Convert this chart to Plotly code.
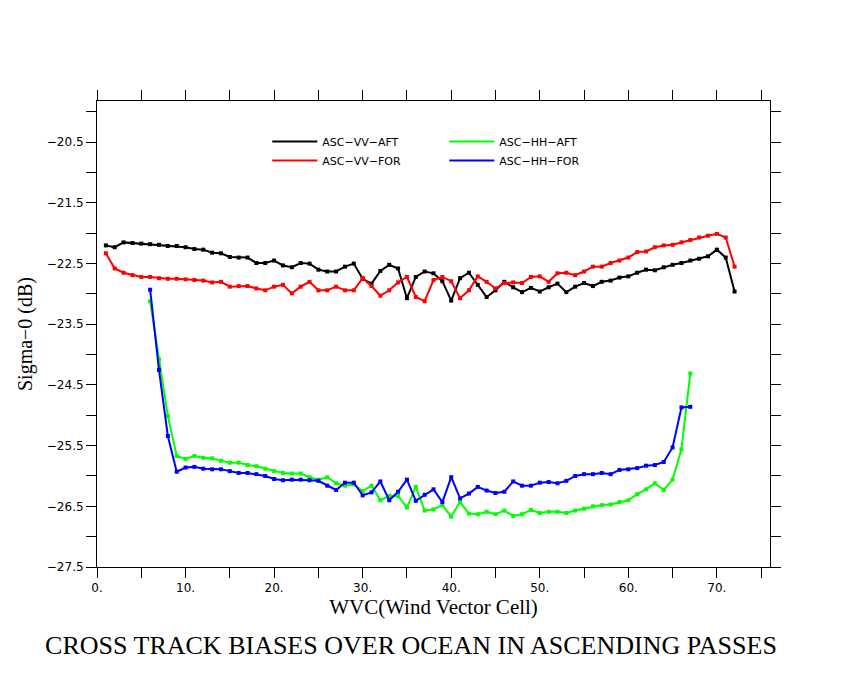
import plotly.graph_objects as go

# wind vector cells
wvc_vv = list(range(1, 73))
wvc_hh = list(range(6, 68))

vv_aft = [-22.20, -22.23, -22.15, -22.16, -22.17, -22.18, -22.19, -22.21, -22.21, -22.23,
          -22.26, -22.27, -22.32, -22.33, -22.39, -22.40, -22.40, -22.49, -22.49, -22.45,
          -22.53, -22.56, -22.49, -22.50, -22.60, -22.63, -22.63, -22.55, -22.50, -22.75,
          -22.83, -22.62, -22.52, -22.58, -23.07, -22.72, -22.63, -22.66, -22.79, -23.11,
          -22.74, -22.65, -22.85, -23.05, -22.94, -22.80, -22.89, -22.97, -22.90, -22.96,
          -22.89, -22.83, -22.97, -22.88, -22.82, -22.87, -22.80, -22.78, -22.73, -22.71,
          -22.65, -22.60, -22.61, -22.56, -22.52, -22.49, -22.45, -22.42, -22.38, -22.27,
          -22.40, -22.96]

vv_for = [-22.33, -22.58, -22.65, -22.69, -22.72, -22.72, -22.74, -22.75, -22.75, -22.76,
          -22.77, -22.78, -22.81, -22.80, -22.88, -22.87, -22.87, -22.91, -22.94, -22.88,
          -22.85, -22.99, -22.88, -22.80, -22.94, -22.94, -22.88, -22.94, -22.94, -22.74,
          -22.87, -23.03, -22.94, -22.81, -22.72, -23.05, -23.12, -22.77, -22.72, -22.79,
          -23.07, -22.94, -22.71, -22.80, -22.91, -22.82, -22.81, -22.82, -22.72, -22.71,
          -22.80, -22.66, -22.65, -22.69, -22.63, -22.55, -22.55, -22.49, -22.45, -22.40,
          -22.31, -22.30, -22.23, -22.20, -22.19, -22.15, -22.11, -22.07, -22.04, -22.01,
          -22.07, -22.55]

hh_aft = [-23.12, -24.08, -25.01, -25.67, -25.72, -25.67, -25.70, -25.71, -25.75, -25.78,
          -25.78, -25.82, -25.84, -25.88, -25.92, -25.95, -25.96, -25.96, -26.02, -26.06,
          -26.02, -26.12, -26.16, -26.14, -26.25, -26.16, -26.40, -26.33, -26.33, -26.52,
          -26.18, -26.57, -26.55, -26.48, -26.67, -26.43, -26.62, -26.63, -26.59, -26.63,
          -26.57, -26.66, -26.63, -26.56, -26.61, -26.59, -26.59, -26.61, -26.57, -26.54,
          -26.50, -26.48, -26.47, -26.43, -26.40, -26.30, -26.22, -26.12, -26.23, -26.06,
          -25.56, -24.31]

hh_for = [-22.93, -24.25, -25.34, -25.93, -25.86, -25.85, -25.88, -25.89, -25.89, -25.92,
          -25.95, -25.95, -25.97, -26.00, -26.05, -26.07, -26.06, -26.06, -26.07, -26.08,
          -26.16, -26.23, -26.11, -26.11, -26.32, -26.27, -26.09, -26.40, -26.26, -26.06,
          -26.41, -26.31, -26.22, -26.43, -26.02, -26.37, -26.29, -26.18, -26.24, -26.28,
          -26.26, -26.09, -26.16, -26.16, -26.11, -26.10, -26.12, -26.08, -26.00, -25.97,
          -25.97, -25.95, -25.97, -25.90, -25.89, -25.87, -25.83, -25.82, -25.77, -25.53,
          -24.87, -24.86]

xtick_vals = list(range(0, 80, 5))
xtick_text = [f"{v}." if v % 10 == 0 else "" for v in xtick_vals]
ytick_vals = [-27.5 + 0.5 * i for i in range(16)]
ytick_text = [f"\u2212{abs(v):.1f}" if (abs(v) * 2) % 2 == 1 else "" for v in ytick_vals]

series = [
    ("ASC\u2212VV\u2212AFT", wvc_vv, vv_aft, "black", "legend"),
    ("ASC\u2212VV\u2212FOR", wvc_vv, vv_for, "red", "legend"),
    ("ASC\u2212HH\u2212AFT", wvc_hh, hh_aft, "#00ff00", "legend2"),
    ("ASC\u2212HH\u2212FOR", wvc_hh, hh_for, "#0000ff", "legend2"),
]

fig = go.Figure()
for name, xs, ys, col, leg in series:
    fig.add_trace(go.Scatter(
        x=xs, y=ys, name=name, mode="lines+markers",
        line=dict(color=col, width=2),
        marker=dict(symbol="square", size=4, color=col),
        showlegend=False,
    ))
# legend entries (plain lines, no markers, like the original key)
for name, xs, ys, col, leg in series:
    fig.add_trace(go.Scatter(
        x=[None], y=[None], name=name, mode="lines",
        line=dict(color=col, width=2), legend=leg,
    ))

sans = "DejaVu Sans"
serif = "Liberation Serif"

axis_common = dict(
    showline=True, linecolor="black", linewidth=1,
    mirror="ticks", ticks="outside", ticklen=10, tickwidth=1, tickcolor="black",
    showgrid=False, zeroline=False,
    tickfont=dict(family=sans, size=12, color="black"),
)

fig.update_xaxes(
    range=[0, 76], tickmode="array", tickvals=xtick_vals, ticktext=xtick_text,
    title=dict(text="WVC(Wind Vector Cell)", font=dict(family=serif, size=21, color="black"), standoff=2),
    **axis_common,
)
# leading nbsp's nudge the rotated label a little upward, as in the original
fig.update_yaxes(
    range=[-27.5, -19.82], tickmode="array", tickvals=ytick_vals, ticktext=ytick_text,
    title=dict(text="\u00a0" * 5 + "Sigma\u22120 (dB)", font=dict(family=serif, size=20, color="black"), standoff=8),
    **axis_common,
)

legend_style = dict(
    font=dict(family=sans, size=11, color="black"),
    bgcolor="rgba(0,0,0,0)", borderwidth=0, tracegroupgap=0,
    yanchor="top", xanchor="left", itemwidth=45,
)

# the page body adds an 8px offset, margins are set to compensate
fig.update_layout(
    width=850, height=680,
    margin=dict(l=89, r=88, t=93, b=121),
    paper_bgcolor="white", plot_bgcolor="white",
    showlegend=True,
    legend=dict(x=0.253, y=0.944, **legend_style),
    legend2=dict(x=0.516, y=0.944, **legend_style),
    title=dict(
        text="CROSS TRACK BIASES OVER OCEAN IN ASCENDING PASSES",
        font=dict(family=serif, size=26, color="black"),
        x=403 / 850, xanchor="center", y=1 - 637 / 680, yanchor="middle", yref="container",
    ),
)

fig.write_html("out.html")
